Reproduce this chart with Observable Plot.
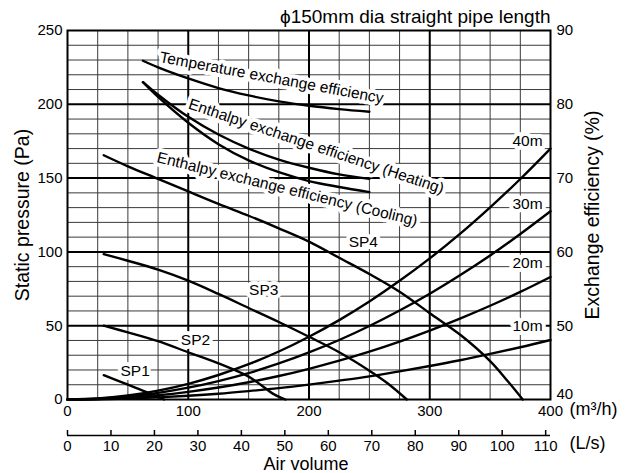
<!DOCTYPE html>
<html>
<head>
<meta charset="utf-8">
<script src="https://cdn.jsdelivr.net/npm/d3@7"></script>
<script src="https://cdn.jsdelivr.net/npm/@observablehq/plot@0.6"></script>
<style>
  body { margin: 0; background: #fff; }
  #wrap { position: relative; width: 631px; height: 473px; overflow: hidden; }
  #wrap svg { position: absolute; left: 0; }
</style>
</head>
<body>
<div id="wrap"></div>
<script>
// ---------- data ----------
const TITLE = "\u03D5150mm dia straight pipe length";
const X_TICKS = [0, 100, 200, 300, 400];          // m³/h
const Y_TICKS = [0, 50, 100, 150, 200, 250];      // Pa
const EFF_TICKS = [40, 50, 60, 70, 80, 90];       // %
const LS_TICKS = [0, 10, 20, 30, 40, 50, 60, 70, 80, 90, 100, 110]; // L/s
const M3H_PER_LS = 3.6;

// fan static pressure curves [m³/h, Pa]
const SP1 = [[30,16.5],[50,10],[65,5.2],[80,0]];
const SP2 = [[30,50],[50,45.5],[75,39.5],[100,32],[125,24.5],[150,15.5],[160,10],[170,4],[180.5,0]];
const SP3 = [[30,98.5],[50,94],[75,88],[100,80.5],[125,71.5],[150,62],[175,52.5],[200,42.5],[225,32],[250,19.5],[265,11],[281,0]];
const SP4 = [[30,165.5],[50,158],[75,149.5],[100,141],[125,132.5],[150,124.5],[175,116],[200,107],[225,96],[250,85],[275,73],[300,58.5],[325,44],[350,26],[365,12],[377,0]];

// duct resistance curves (Pa) at DUCT_X (m³/h)
const DUCT_X   = [0, 25, 50, 75, 100, 125, 150, 175, 200, 225, 250, 275, 300, 325, 350, 375, 400];
const DUCT_10M = [0, 0.16, 0.63, 1.42, 2.5, 3.9, 5.7, 7.7, 10.1, 12.8, 15.7, 19.1, 22.7, 26.6, 30.9, 35.4, 40.3];
const DUCT_20M = [0, 0.32, 1.3, 2.9, 5.2, 8.1, 11.7, 15.9, 20.8, 26.3, 32.4, 39.2, 46.7, 54.8, 63.5, 72.9, 83];
const DUCT_30M = [0, 0.5, 2.0, 4.5, 8.0, 12.5, 17.9, 24.4, 31.9, 40.3, 49.8, 60.3, 71.7, 84.2, 97.6, 112.1, 127.5];
const DUCT_40M = [0, 0.66, 2.7, 6.0, 10.6, 16.6, 23.9, 32.5, 42.5, 53.8, 66.4, 80.4, 95.6, 112.2, 130.2, 149.4, 170];

// exchange efficiency curves [m³/h, %]
const TEMP_EFF  = [[62.5,85.9],[75,85.0],[100,83.5],[125,82.2],[150,81.2],[175,80.4],[200,79.8],[225,79.35],[250,79.0]];
const ENTH_HEAT = [[62.5,83.0],[75,81.3],[100,78.3],[125,75.9],[150,74.0],[175,72.5],[200,71.4],[225,70.5],[250,69.9]];
const ENTH_COOL = [[62.5,83.0],[75,81.0],[100,77.5],[125,74.6],[150,72.4],[175,70.8],[200,69.6],[225,68.8],[250,68.1]];

// labels (data coordinates)
const SP_LABELS = [
  {text: "SP1", x: 56, y: 19.5},
  {text: "SP2", x: 106, y: 40.5},
  {text: "SP3", x: 162.5, y: 74.5},
  {text: "SP4", x: 245, y: 107}
];
const DUCT_LABELS = [
  {text: "40m", x: 381, y: 175},
  {text: "30m", x: 381, y: 132.5},
  {text: "20m", x: 381, y: 92.5},
  {text: "10m", x: 381, y: 50}
];
const EFF_LABELS = [
  {text: "Temperature exchange efficiency", x: 169, eff: 83.6},
  {text: "Enthalpy exchange efficiency (Heating)", x: 206, eff: 74.3},
  {text: "Enthalpy exchange efficiency (Cooling)", x: 182, eff: 68.5}
];
const EFF_ANGLES = [10.5, 18.6, 13.8];

// ---------- chart ----------
const FONT = "'Liberation Sans', Arial, Helvetica, sans-serif";
const effToPa = d3.scaleLinear()
  .domain([EFF_TICKS[0], EFF_TICKS[EFF_TICKS.length - 1]])
  .range([Y_TICKS[0], Y_TICKS[Y_TICKS.length - 1]]);
const paToEff = effToPa.invert;

const gridXMinor = d3.range(0, 401, 25).filter(v => v % 100 !== 0 && v !== 400);
const gridXMajor = [100, 200, 300];
const gridYMinor = d3.range(0, 251, 10).filter(v => v % 50 !== 0);
const gridYMajor = [50, 100, 150, 200];

const pairs = arr => arr.map(([x, y]) => ({x, y}));
const duct = ys => DUCT_X.map((x, i) => ({x, y: ys[i]}));
const effPairs = arr => arr.map(([x, e]) => ({x, y: effToPa(e)}));

const lineOpts = {x: "x", y: "y", stroke: "#000", strokeWidth: 2.4, curve: "catmull-rom"};
const halo = {stroke: "white", strokeWidth: 8, fill: "black", paintOrder: "stroke", fontSize: 15.5};
const title = {lineAnchor: "middle", fill: "#000"};
const rightAxis = {anchor: "right", tickSize: 0, tickPadding: 6, label: null, fontSize: 15, tickFormat: d => paToEff(d)};

const main = Plot.plot({
  width: 631, height: 473,
  marginLeft: 67, marginRight: 81, marginTop: 30, marginBottom: 74,
  style: {fontFamily: FONT, fontSize: "15px", color: "#000", background: "transparent"},
  x: {domain: [X_TICKS[0], X_TICKS[X_TICKS.length - 1]]},
  y: {domain: [Y_TICKS[0], Y_TICKS[Y_TICKS.length - 1]]},
  marks: [
    Plot.ruleX(gridXMinor, {stroke: "#3a3a3a", strokeWidth: 1}),
    Plot.ruleY(gridYMinor, {stroke: "#3a3a3a", strokeWidth: 1}),
    Plot.ruleX(gridXMajor, {stroke: "#000", strokeWidth: 2}),
    Plot.ruleY(gridYMajor, {stroke: "#000", strokeWidth: 2}),
    Plot.frame({stroke: "#000", strokeWidth: 2}),
    Plot.axisY({anchor: "left", ticks: Y_TICKS, tickSize: 0, tickPadding: 5, label: null, fontSize: 15}),
    Plot.axisY({...rightAxis, ticks: Y_TICKS.slice(1)}),
    Plot.axisY({...rightAxis, ticks: Y_TICKS.slice(0, 1), dy: -5}),
    Plot.axisX({anchor: "bottom", ticks: X_TICKS, tickSize: 0, tickPadding: 6, label: null, fontSize: 15}),
    // labels with white background
    Plot.text(SP_LABELS, {x: "x", y: "y", text: "text", ...halo}),
    Plot.text(DUCT_LABELS, {x: "x", y: "y", text: "text", ...halo}),
    ...EFF_LABELS.map((d, i) => Plot.text([d], {x: "x", y: e => effToPa(e.eff), text: "text", rotate: EFF_ANGLES[i], ...halo})),
    // curves
    Plot.line(pairs(SP1), lineOpts),
    Plot.line(pairs(SP2), lineOpts),
    Plot.line(pairs(SP3), lineOpts),
    Plot.line(pairs(SP4), lineOpts),
    Plot.line(duct(DUCT_10M), lineOpts),
    Plot.line(duct(DUCT_20M), lineOpts),
    Plot.line(duct(DUCT_30M), lineOpts),
    Plot.line(duct(DUCT_40M), lineOpts),
    Plot.line(effPairs(TEMP_EFF), lineOpts),
    Plot.line(effPairs(ENTH_HEAT), lineOpts),
    Plot.line(effPairs(ENTH_COOL), lineOpts),
    // titles
    Plot.text([TITLE], {frameAnchor: "top-right", textAnchor: "end", dy: -14, fontSize: 19, ...title}),
    Plot.text(["Static pressure (Pa)"], {frameAnchor: "left", textAnchor: "middle", rotate: -90, dx: -45, fontSize: 19.5, ...title}),
    Plot.text(["Exchange efficiency (%)"], {frameAnchor: "right", textAnchor: "middle", rotate: -90, dx: 42, fontSize: 19.5, ...title}),
    Plot.text(["(m\u00B3/h)"], {frameAnchor: "bottom-right", textAnchor: "start", dx: 19, dy: 10, fontSize: 18, ...title}),
    Plot.text(["(L/s)"], {frameAnchor: "bottom-right", textAnchor: "start", dx: 19, dy: 44, fontSize: 18, ...title}),
    Plot.text(["Air volume"], {frameAnchor: "bottom", textAnchor: "middle", dx: -3, dy: 65, fontSize: 18, ...title})
  ]
});
main.style.top = "0px";

const ls = Plot.plot({
  width: 631, height: 32,
  marginLeft: 67, marginRight: 81, marginTop: 0, marginBottom: 27,
  style: {fontFamily: FONT, fontSize: "15px", color: "#000", background: "transparent"},
  x: {domain: [X_TICKS[0] / M3H_PER_LS, X_TICKS[X_TICKS.length - 1] / M3H_PER_LS]},
  y: {domain: [0, 1], axis: null},
  marks: [
    Plot.tickX(LS_TICKS, {x: d => d, stroke: "#000", strokeWidth: 1.5}),
    Plot.ruleY([0], {stroke: "#000", strokeWidth: 1.5}),
    Plot.axisX({anchor: "bottom", ticks: LS_TICKS, tickSize: 0, tickPadding: 5, label: null, fontSize: 15})
  ]
});
ls.style.top = "430px";

const wrap = document.getElementById("wrap");
wrap.appendChild(main);
wrap.appendChild(ls);
</script>
</body>
</html>
